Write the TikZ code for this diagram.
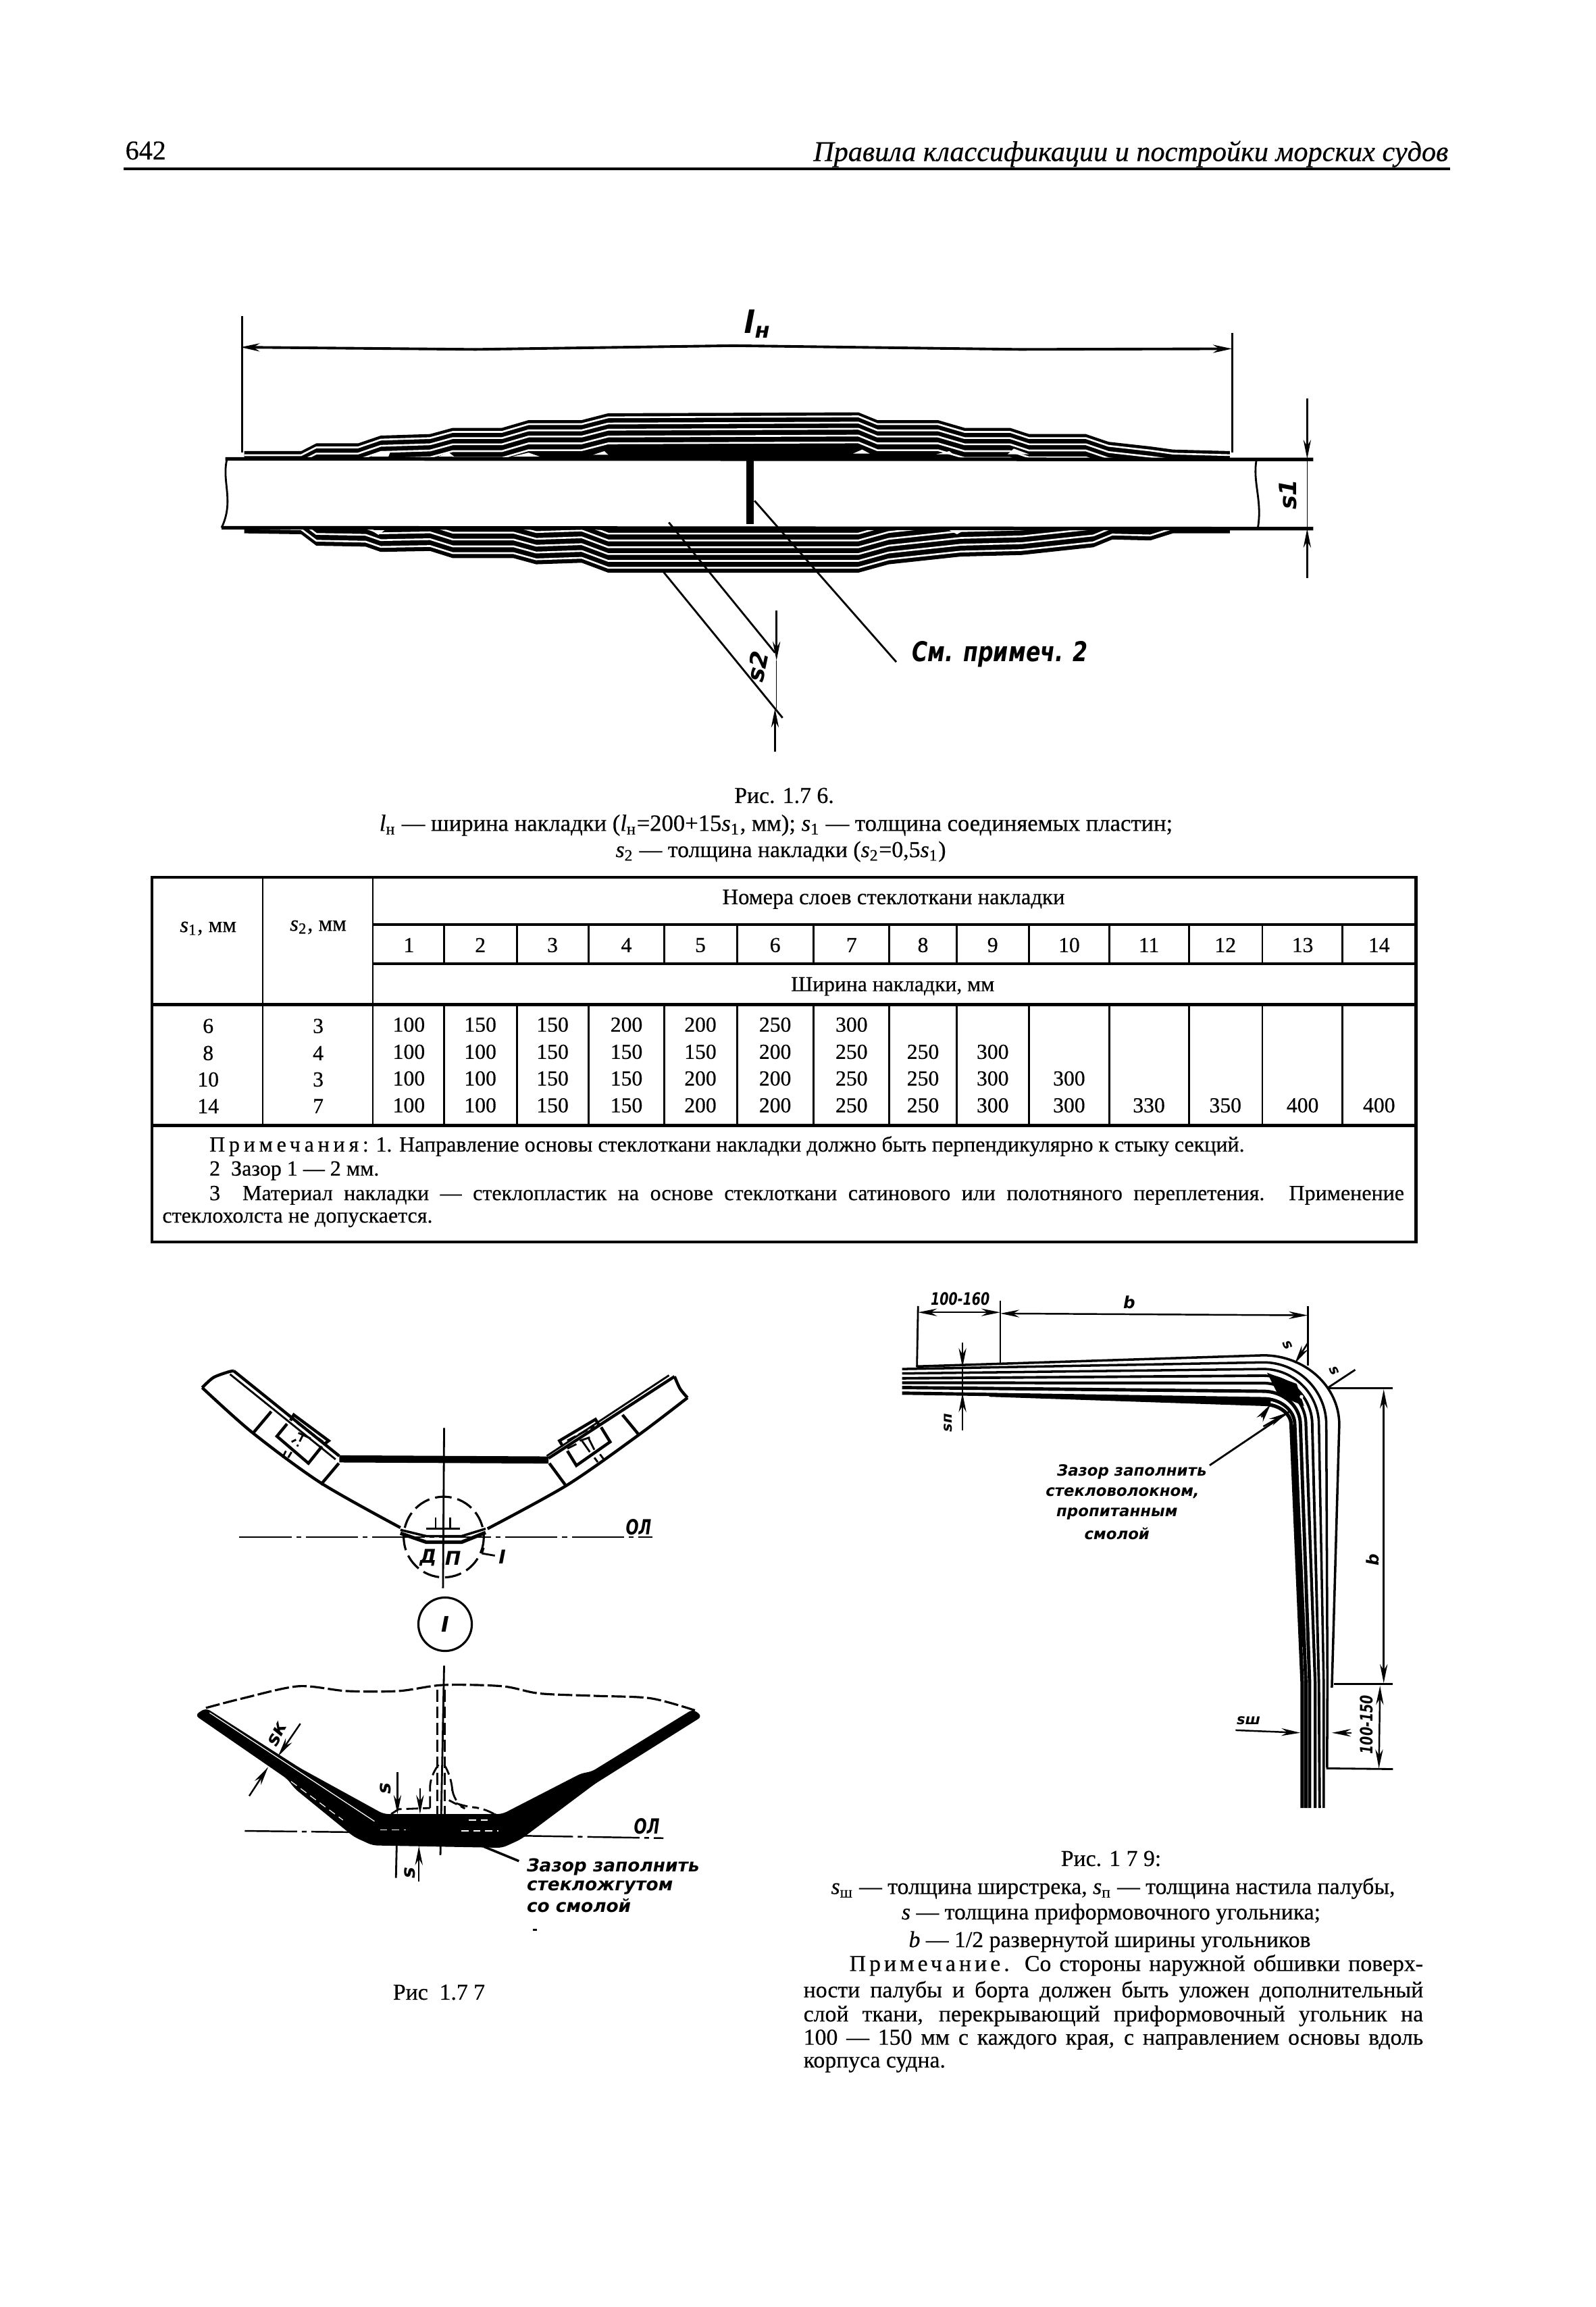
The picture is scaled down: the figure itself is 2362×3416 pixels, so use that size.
\documentclass[tikz,border=0pt]{standalone}
\usepackage{fontspec}
\usepackage{graphicx}
\usetikzlibrary{arrows.meta}
\setmainfont{Liberation Serif}[FakeBold=0.45]
\newfontfamily\hand{DejaVu Sans}
\tikzset{
 ln/.style={line width=0.8pt,black},
 thk/.style={line width=1.25pt,black},
 dimarr/.style={line width=0.7pt,-{Stealth[length=8pt,width=3.2pt]}},
 dimboth/.style={line width=0.7pt,{Stealth[length=8pt,width=3.2pt]}-{Stealth[length=8pt,width=3.2pt]}},
 txt/.style={font=\fontsize{9.6}{11}\selectfont,inner sep=0pt},
 cell/.style={font=\fontsize{9}{10}\selectfont,inner sep=0pt},
 note/.style={font=\fontsize{9.1}{10}\selectfont,inner sep=0pt},
 hnd/.style={font=\hand\bfseries\itshape\fontsize{#1}{#1}\selectfont,inner sep=0pt},
 hnd/.default=7,
 axis/.style={line width=0.7pt,dash pattern=on 22pt off 2pt on 2pt off 2pt},
}
\newcommand\ssub[2]{\textit{#1}\textsubscript{#2}}
\begin{document}
\begin{tikzpicture}[x=0.01cm,y=-0.01cm]
\fill[white] (0,0) rectangle (2362,3416);
\useasboundingbox (0,0) rectangle (2362,3416);
% page header
\node[txt,font=\fontsize{11.4}{12}\selectfont,anchor=west] (pno) at (185,223) {642};
\node[txt,font=\fontsize{12}{13}\selectfont\itshape,anchor=east] (ptitle) at (2145,228) {Правила классификации и постройки морских судов};
\draw[line width=1.4pt] (183,250) -- (2147,250);

% ---------- Fig 1.76
\begin{scope}[shift={(300,420)},xscale=1.1224,yscale=0.4592]
\def\topenv{(55,540) -- (130,540) -- (150,515) -- (205,515) -- (235,490) -- (300,485) -- (330,465) -- (395,465) -- (430,440) -- (500,440) -- (535,418) -- (865,415) -- (890,440) -- (970,440) -- (1005,465) -- (1065,465) -- (1090,485) -- (1165,485) -- (1195,510) -- (1250,525) -- (1280,535) -- (1355,540)}
\def\botenv{(55,805) -- (130,808) -- (150,845) -- (215,848) -- (235,865) -- (300,862) -- (330,885) -- (410,885) -- (440,905) -- (500,900) -- (535,932) -- (865,932) -- (905,905) -- (1000,880) -- (1080,875) -- (1175,850) -- (1200,825) -- (1250,828) -- (1280,805) -- (1355,805)}
\begin{scope}
\clip \topenv -- (1355,565) -- (55,565) -- cycle;
\fill[black] (0,300) rectangle (1400,600);
\foreach \o in {13,33,53,75,97}{
 \draw[white,line width=0.75pt,shift={(0,\o)}] \topenv;
}
\end{scope}
\begin{scope}
\clip \botenv -- (1355,788) -- (55,788) -- cycle;
\fill[black] (0,700) rectangle (1400,1000);
\foreach \o in {-16,-38,-60,-82,-104,-126}{
 \draw[white,line width=0.75pt,shift={(0,\o)}] \botenv;
}
\end{scope}
\fill[white] (222,558) -- (235,540) -- (248,540) -- (245,558) -- cycle;
\fill[white] (310,558) -- (325,545) -- (332,558) -- cycle;
\fill[white] (408,558) -- (430,545) -- (445,558) -- cycle;
\fill[white] (515,552) -- (530,540) -- (535,552) -- cycle;
\fill[white] (858,548) -- (870,535) -- (880,548) -- cycle;
\fill[white] (968,550) -- (985,540) -- (990,550) -- cycle;
\fill[white] (1062,550) -- (1070,532) -- (1090,550) -- cycle;
\fill[white] (222,795) -- (240,795) -- (232,810) -- cycle;
\fill[white] (985,795) -- (1005,795) -- (995,808) -- cycle;
% plate
\draw[line width=1.5pt] (30,565) -- (1465,567);
\draw[line width=1.5pt] (25,787) -- (1465,790);
\draw[ln] (32,567) .. controls (25,640) and (42,700) .. (25,787);
\draw[ln] (1390,570) .. controls (1385,640) and (1398,700) .. (1392,787);
\draw[line width=3pt] (722,570) -- (722,775);
% dimensions
\draw[ln] (52,105) -- (52,545);
\draw[ln] (1358,160) -- (1358,545);
\draw[line width=1.1pt,{Stealth[length=8pt,width=3.4pt]}-{Stealth[length=8pt,width=3.4pt]}] (50,205) -- (360,212) -- (700,200) -- (1078,212) -- (1358,210);
\draw[dimarr] (1457,370) -- (1457,565);
\draw[ln,line width=0.4pt] (1457,565) -- (1457,790);
\draw[dimarr] (1457,950) -- (1457,790);
\draw[ln] (728,700) -- (915,1220);
\draw[ln] (615,770) -- (755,1190);
\draw[ln] (608,930) -- (765,1400);
\draw[dimarr] (757,1055) -- (757,1215);
\draw[ln,line width=0.4pt] (757,1215) -- (757,1370);
\draw[dimarr] (755,1510) -- (755,1370);
\node[hnd=13] (lh) at (732,130) {l\textsubscript{н}};
\node[hnd=10,rotate=90] (s1) at (1432,680) {s1};
\node[hnd=10,rotate=78] (s2) at (732,1235) {s2};
\node[hnd=10] (see) at (1052,1195) {\scalebox{0.9}[1.15]{См. примеч. 2}};
\end{scope}
% caption 1.76
\node[txt] (c76a) at (1161,1178) {Рис. 1.7 6.};
\node[txt,font=\fontsize{9.85}{11}\selectfont] (c76b) at (1149,1222) {\textit{l}\textsubscript{н} — ширина накладки (\textit{l}\textsubscript{н}=200+15\textit{s}\textsubscript{1}, мм); \textit{s}\textsubscript{1} — толщина соединяемых пластин;};
\node[txt] (c76c) at (1156,1261) {\textit{s}\textsubscript{2} — толщина накладки (\textit{s}\textsubscript{2}=0,5\textit{s}\textsubscript{1})};

% ---------- Table
\begin{scope}[shift={(200,1280)},xscale=1.2436,yscale=0.3827]
\draw[line width=1.2pt] (20,50) rectangle (1525,1460);
\draw[line width=1.2pt] (283,232) -- (1525,232);
\draw[line width=1.2pt] (283,385) -- (1525,385);
\draw[line width=1.2pt] (20,542) -- (1525,542);
\draw[line width=1.2pt] (20,1010) -- (1525,1010);
\draw[ln] (152,50) -- (152,1010);
\draw[ln] (283,50) -- (283,1010);
\foreach \vx in {368,455,540,630,717,808,898,978,1064,1160,1255,1342,1437}{
 \draw[ln] (\vx,232) -- (\vx,385);
 \draw[ln] (\vx,542) -- (\vx,1010);
}
\node[cell,font=\fontsize{9.3}{10}\selectfont] (hs1) at (87,248) {\ssub{s}{1}, мм};
\node[cell,font=\fontsize{9.3}{10}\selectfont] (hs2) at (218,243) {\ssub{s}{2}, мм};
\node[cell,font=\fontsize{9.3}{10}\selectfont] (hnum) at (903,135) {Номера слоев стеклоткани накладки};
\node[cell] (hwid) at (902,472) {Ширина накладки, мм};
\foreach \v [count=\ci from 0] in {1,2,3,4,5,6,7,8,9,10,11,12,13,14}{
 \pgfmathsetmacro\cx{{326,411,497,585,673,762,853,938,1021,1112,1207,1298,1390,1481}[\ci]}
 \node[cell,name=n\ci] at (\cx,312) {\v};
}
\foreach \ry/\ra/\rb in {625/6/3,730/8/4,832/10/3,935/14/7}{
 \node[cell,name=a\ry] at (87,\ry) {\ra};
 \node[cell,name=b\ry] at (218,\ry) {\rb};
}
\newcommand\tblrow[2]{%
 \foreach \v [count=\ci from 0] in {#2}{
  \pgfmathsetmacro\cx{{326,411,497,585,673,762,853,938,1021,1112,1207,1298,1390,1481}[\ci]}
  \node[cell,name=r#1c\ci] at (\cx,#1) {\v};
 }}
\tblrow{620}{100,150,150,200,200,250,300}
\tblrow{725}{100,100,150,150,150,200,250,250,300}
\tblrow{828}{100,100,150,150,200,200,250,250,300,300}
\tblrow{932}{100,100,150,150,200,200,250,250,300,300,330,350,400,400}
\node[note,anchor=west] (nt1) at (88,1090) {{\addfontfeature{LetterSpace=18}Примечания:} 1. Направление основы стеклоткани накладки должно быть перпендикулярно к стыку секций.};
\node[note,anchor=west] (nt2) at (88,1185) {2\ \ Зазор 1 — 2 мм.};
\node[note,anchor=west] (nt3) at (88,1280) {\makebox[503pt][s]{3\ \ Материал накладки — стеклопластик на основе стеклоткани сатинового или полотняного переплетения. Применение}};
\node[note,anchor=west] (nt4) at (32,1375) {стеклохолста не допускается.};
\end{scope}

% ---------- Fig 1.77 upper
\begin{scope}[shift={(250,2000)},xscale=0.5485,yscale=0.3316]
\draw[thk] plot[smooth] coordinates {(90,165) (120,120) (160,95) (175,90)};
\draw[thk] (175,90) -- (460,470);
\draw[ln] (165,105) -- (450,485);
\draw[thk] plot[smooth] coordinates {(90,165) (225,365) (410,590) (625,790)};
% right arm
\draw[thk] (1365,115) -- (1025,480);
\draw[ln] (1350,110) -- (1020,470);
\draw[thk] plot[smooth] coordinates {(1365,115) (1380,170) (1400,210)};
\draw[thk] plot[smooth] coordinates {(1400,210) (1265,380) (1075,600) (860,795)};
\draw[line width=3pt] (460,483) -- (1025,488);
% centre
\draw[ln] (743,345) -- (740,1060);
\draw[line width=0.9pt,dash pattern=on 7pt off 2.5pt] (742,832) ellipse [x radius=108,y radius=180];
\draw[axis] (190,832) -- (1305,832);
\node[hnd=8] (ol1) at (1268,788) {\scalebox{0.8}[1.1]{ОЛ}};
\draw[line width=1pt] (625,800) -- (695,828) -- (790,828) -- (855,795);
\draw[line width=1.5pt] (625,815) -- (695,855) -- (790,855) -- (855,812);
\draw[ln] (720,745) -- (720,795) -- (695,795);
\draw[ln] (760,745) -- (760,795) -- (785,795);
\draw[line width=0.9pt] (695,795) -- (785,795);
\node[hnd=8] (dl) at (700,925) {Д};
\node[hnd=8] (pi) at (767,925) {П};
\node[hnd=8] (one) at (900,920) {I};
\draw[ln] (845,905) -- (880,915);
\draw[ln] (850,880) -- (845,905);
\end{scope}
% left bracket
\begin{scope}[shift={(360,2070)},xscale=0.3333,yscale=0.3333]
\draw[thk] (125,60) -- (45,155);
\draw[thk] (425,290) -- (345,385);
\draw[thk] (210,100) -- (225,75) -- (380,190) -- (360,205);
\draw[line width=0.9pt,dash pattern=on 4pt off 1.5pt] (240,110) -- (355,195);
\draw[thk] (195,115) -- (150,170) -- (290,290) -- (350,215);
\draw[ln] (245,155) -- (300,180);
\draw[ln,dash pattern=on 3pt off 1.5pt] (265,165) -- (240,215);
\draw[ln] (215,195) -- (235,185);
\draw[ln] (190,235) -- (175,265);
\draw[ln] (215,240) -- (200,265);
\end{scope}
% right bracket
\begin{scope}[shift={(790,2070)},xscale=0.3333,yscale=0.3333]
\draw[thk] (395,75) -- (465,160);
\draw[thk] (70,290) -- (140,385);
\draw[thk] (130,215) -- (115,190) -- (275,95) -- (290,120);
\draw[line width=0.9pt,dash pattern=on 4pt off 1.5pt] (150,190) -- (270,125);
\draw[thk] (300,130) -- (340,195) -- (190,300) -- (150,235);
\draw[ln] (205,190) -- (250,175);
\draw[ln] (215,190) -- (250,240);
\draw[ln] (245,180) -- (270,230);
\draw[ln] (150,225) -- (190,205);
\draw[ln] (270,265) -- (285,285);
\draw[ln] (295,250) -- (310,270);
\end{scope}
\node[circle,draw,line width=0.9pt,minimum size=22.5pt,inner sep=0pt,hnd=9] (circI) at (659,2405) {I};

% ---------- Fig 1.77 lower
\begin{scope}[shift={(250,2420)},xscale=0.5485,yscale=0.3571]
\draw[line width=0.9pt,dash pattern=on 6pt off 1.5pt] plot[smooth] coordinates {(100,305) (200,265) (350,215) (480,235) (620,235) (740,210) (900,215) (1000,245) (1150,255) (1300,265) (1420,315)};
\fill[black,rounded corners=2pt] (70,335) -- (100,305) -- (355,555) -- (580,745) -- (900,745) -- (1115,575) -- (1140,570) -- (1415,310) -- (1440,340) -- (1150,620) -- (950,850) -- (900,885) -- (550,875) -- (500,840) -- (340,640) -- (320,600) -- cycle;
\draw[white,line width=0.35pt] (110,325) -- (555,775);
\draw[white,line width=0.35pt,dash pattern=on 3pt off 2pt] (330,610) -- (470,770);
\draw[white,line width=0.35pt,dash pattern=on 3pt off 2pt] (790,815) -- (890,815) (810,770) -- (860,770) (570,810) -- (640,810);
\draw[ln] (743,130) -- (733,915);
\draw[line width=0.8pt,dash pattern=on 5pt off 2pt] (725,230) -- (725,745);
\draw[line width=0.8pt,dash pattern=on 5pt off 2pt] (745,230) -- (745,745);
\draw[line width=0.8pt,dash pattern=on 5pt off 2pt,rounded corners=6pt] (705,720) -- (705,575) -- (725,545);
\draw[line width=0.8pt,dash pattern=on 5pt off 2pt,rounded corners=6pt] (745,545) -- (765,590) -- (765,695) -- (790,715) -- (860,720) -- (880,745);
\draw[line width=0.8pt,dash pattern=on 5pt off 2pt] (600,745) -- (620,725) -- (705,720);
\draw[dimarr] (355,370) -- (295,505);
\draw[dimarr] (217,670) -- (268,550);
\draw[dimarr] (617,572) -- (617,745);
\draw[dimarr] (678,638) -- (678,745);
\draw[ln] (615,875) -- (613,1010);
\draw[dimarr] (675,1025) -- (675,878);
\draw[axis] (205,815) -- (490,820);
\draw[axis] (950,835) -- (1335,845);
\draw[line width=1pt] (850,880) -- (945,940);
\node[hnd=8] (ol2) at (1290,795) {\scalebox{0.8}[1.1]{ОЛ}};
\node[hnd=8,rotate=62] (sk) at (293,415) {sк};
\node[hnd=8,rotate=90] (s3) at (585,640) {s};
\node[hnd=8,rotate=90] (s4) at (650,990) {s};
\node[hnd=7.5,anchor=west] (gapa) at (965,965) {Зазор заполнить};
\node[hnd=7.5,anchor=west] (gapb) at (965,1050) {стекложгутом};
\node[hnd=7.5,anchor=west] (gapc) at (965,1125) {со смолой};
\draw[ln] (982,1225) -- (994,1225);
\end{scope}
\node[txt] (c77) at (650,2950) {Рис\ \ 1.7 7};

% ---------- Fig 1.79
\begin{scope}[shift={(1300,1890)},xscale=0.5485,yscale=0.5485]
\foreach \xL/\yL/\yM/\xD/\xE/\yE/\xB/\yB/\w in {
 105/243/213/1245/1225/1110/1225/1110/1.0,
 65/250/232/1210/1213/1100/1212/1325/1.0,
 65/262/250/1190/1203/1100/1203/1435/1.0,
 65/275/268/1172/1190/1100/1192/1435/1.1,
 65/287/288/1155/1180/1100/1180/1435/1.2,
 65/300/310/1140/1165/1100/1165/1435/1.4,
 65/315/330/1125/1155/1100/1155/1435/1.4,
 300/320/345/1115/1145/1100/1145/1435/1.5}{
 \draw[line width=\w pt] (\xL,\yL) -- (1040,\yM) .. controls ({1040+0.55*(\xD-1040)},\yM) and (\xD,{400-0.55*(400-\yM)}) .. (\xD,400) -- (\xE,\yE) -- (\xB,\yB);
}
\fill[black] (400,318) -- (1060,328) -- (1060,345) -- cycle;
\fill[black] (1128,400) -- (1115,400) -- (1145,1000) -- (1155,1000) -- cycle;
\fill[black] (1050,260) -- (1130,290) -- (1150,350) -- (1080,320) -- cycle;
\fill[white] (1143,325) circle (5);
\fill[white] (1120,265) circle (4);
\draw[ln] (108,80) -- (105,245);
\draw[ln] (330,65) -- (330,235);
\draw[ln] (1160,80) -- (1160,240);
\draw[dimboth] (108,97) -- (330,97);
\draw[dimboth] (330,100) -- (1160,105);
\draw[dimarr] (228,178) -- (228,245);
\draw[dimarr] (228,415) -- (228,315);
\draw[ln,line width=0.4pt] (228,245) -- (228,315);
\draw[dimarr] (1160,180) -- (1125,235);
\draw[ln] (1288,252) -- (1215,300);
\draw[ln] (895,510) -- (1110,365);
\draw[dimarr] (1035,380) -- (1060,345);
\draw[dimarr] (1040,405) -- (1105,368);
\draw[ln] (1215,302) -- (1390,302);
\draw[ln] (1230,1100) -- (1390,1100);
\draw[ln] (1210,1328) -- (1390,1330);
\draw[dimboth] (1365,305) -- (1365,1098);
\draw[dimboth] (1355,1105) -- (1352,1328);
\draw[dimarr] (965,1225) -- (1140,1232);
\draw[dimarr] (1278,1232) -- (1225,1232);
\node[hnd=6] (d1) at (222,60) {\scalebox{0.9}[1.2]{100-160}};
\node[hnd=7] (db) at (678,70) {b};
\node[hnd=6,rotate=90] (dsn) at (190,395) {sп};
\node[hnd=6,rotate=-65] (ds1) at (1105,185) {s};
\node[hnd=6,rotate=-65] (ds2) at (1232,255) {s};
\node[hnd=7,rotate=90] (db2) at (1335,765) {b};
\node[hnd=6,rotate=90] (d2) at (1318,1210) {\scalebox{0.9}[1.2]{100-150}};
\node[hnd=6] (dsh) at (1000,1200) {sш};
\node[hnd=6.5] (g1) at (685,528) {Зазор заполнить};
\node[hnd=6.5] (g2) at (660,585) {стекловолокном,};
\node[hnd=6.5] (g3) at (645,640) {пропитанным};
\node[hnd=6.5] (g4) at (645,695) {смолой};
\end{scope}
% caption 1.79
\node[txt] (c79a) at (1645,2752) {Рис. 1 7 9:};
\node[txt] (c79b) at (1648,2796) {\ssub{s}{ш} — толщина ширстрека, \ssub{s}{п} — толщина настила палубы,};
\node[txt] (c79c) at (1645,2834) {\textit{s} — толщина приформовочного угольника;};
\node[txt] (c79d) at (1643,2875) {\textit{b} — 1/2 развернутой ширины угольников};
\node[txt,anchor=west] (c79e) at (1257,2910) {\makebox[241.5pt][s]{{\addfontfeature{LetterSpace=15}Примечание.} Со стороны наружной обшивки поверх-}};
\node[txt,anchor=west] (c79f) at (1189,2949) {\makebox[260.9pt][s]{ности палубы и борта должен быть уложен дополнительный}};
\node[txt,anchor=west] (c79g) at (1189,2985) {\makebox[260.9pt][s]{слой ткани, перекрывающий приформовочный угольник на}};
\node[txt,anchor=west] (c79h) at (1189,3020) {\makebox[260.9pt][s]{100 — 150 мм с каждого края, с направлением основы вдоль}};
\node[txt,anchor=west] (c79i) at (1189,3057) {корпуса судна.};
\end{tikzpicture}
\end{document}
